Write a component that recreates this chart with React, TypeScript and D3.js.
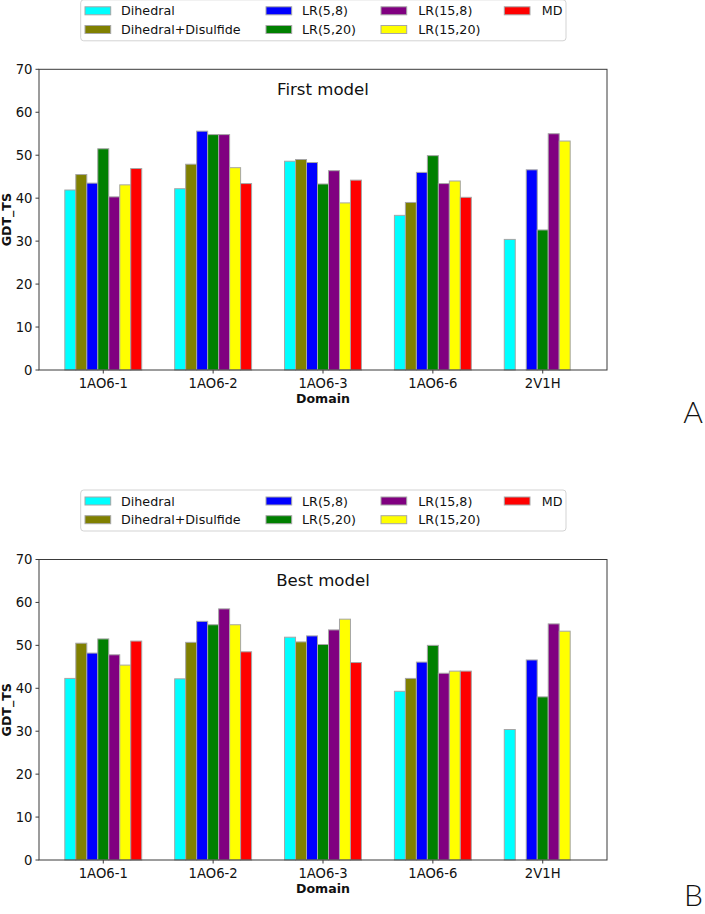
import React from "react";
import * as d3 from "d3";

const categories = ["1AO6-1", "1AO6-2", "1AO6-3", "1AO6-6", "2V1H"];
const seriesNames = ["Dihedral", "Dihedral+Disulfide", "LR(5,8)", "LR(5,20)", "LR(15,8)", "LR(15,20)", "MD"];
const seriesColors = ["#00ffff", "#808000", "#0000ff", "#008000", "#800080", "#ffff00", "#ff0000"];
const yTicks = [0, 10, 20, 30, 40, 50, 60, 70];

// First model (panel A)
const firstDihedral = [41.9, 42.2, 48.6, 36.0, 30.4];
const firstDihedralDisulfide = [45.5, 47.9, 49.0, 39.0, null];
const firstLR5_8 = [43.5, 55.6, 48.3, 46.0, 46.6];
const firstLR5_20 = [51.5, 54.8, 43.3, 49.9, 32.6];
const firstLR15_8 = [40.3, 54.8, 46.4, 43.4, 55.0];
const firstLR15_20 = [43.1, 47.1, 38.9, 44.0, 53.3];
const firstMD = [46.9, 43.4, 44.2, 40.2, null];

// Best model (panel B)
const bestDihedral = [42.3, 42.2, 51.9, 39.3, 30.4];
const bestDihedralDisulfide = [50.5, 50.7, 50.8, 42.3, null];
const bestLR5_8 = [48.2, 55.6, 52.2, 46.1, 46.6];
const bestLR5_20 = [51.5, 54.8, 50.2, 50.0, 38.0];
const bestLR15_8 = [47.8, 58.5, 53.6, 43.5, 55.0];
const bestLR15_20 = [45.4, 54.8, 56.1, 44.0, 53.3];
const bestMD = [51.0, 48.5, 46.0, 44.0, null];

const firstSeries = [firstDihedral, firstDihedralDisulfide, firstLR5_8, firstLR5_20, firstLR15_8, firstLR15_20, firstMD];
const bestSeries = [bestDihedral, bestDihedralDisulfide, bestLR5_8, bestLR5_20, bestLR15_8, bestLR15_20, bestMD];

const FONT = "'DejaVu Sans', sans-serif";
const EDGE = "#a6a6a6";
const SPINE = "#3a3a3a";

type PanelProps = {
  series: (number | null)[][];
  title: string;
  plotTop: number;
  plotBottom: number;
  letter: string;
  letterY: number;
};

function Panel({ series, title, plotTop, plotBottom, letter, letterY }: PanelProps) {
  const left = 39;
  const right = 607;
  const barW = 0.1;
  const x = d3.scaleLinear().domain([-0.585, 4.585]).range([left, right]);
  const y = d3.scaleLinear().domain([0, 70]).range([plotBottom, plotTop]);
  const nS = series.length;

  const legendBottom = plotTop - 28.5;
  const legendTop = legendBottom - 41;
  const row1 = legendBottom - 30;
  const row2 = legendBottom - 11.3;
  const colPatchX = [85, 266, 381, 504.3];
  const colTextX = [121, 302, 418.3, 541.7];

  return (
    <g>
      {series.map((vals, j) =>
        vals.map((v, i) => {
          if (v == null) return null;
          const cx = i + (j - (nS - 1) / 2) * barW;
          const x0 = x(cx - barW / 2);
          const x1 = x(cx + barW / 2);
          return (
            <rect
              key={`b-${j}-${i}`}
              x={x0}
              y={y(v)}
              width={x1 - x0}
              height={y(0) - y(v)}
              fill={seriesColors[j]}
              stroke={EDGE}
              strokeWidth={1}
            />
          );
        })
      )}
      <rect x={left} y={plotTop} width={right - left} height={plotBottom - plotTop} fill="none" stroke={SPINE} strokeWidth={1} />
      {yTicks.map((t) => (
        <g key={`yt-${t}`}>
          <line x1={left - 3.5} x2={left} y1={y(t)} y2={y(t)} stroke={SPINE} strokeWidth={1} />
          <text x={left - 6.5} y={y(t)} dy="0.36em" textAnchor="end" fontFamily={FONT} fontSize={13.2} fill="#111">
            {t}
          </text>
        </g>
      ))}
      {categories.map((c, i) => (
        <g key={`xt-${c}`}>
          <line x1={x(i)} x2={x(i)} y1={plotBottom} y2={plotBottom + 3.5} stroke={SPINE} strokeWidth={1} />
          <text x={x(i)} y={plotBottom + 18} textAnchor="middle" fontFamily={FONT} fontSize={13.2} fill="#111">
            {c}
          </text>
        </g>
      ))}
      <text x={x(2)} y={plotBottom + 32.5} textAnchor="middle" fontFamily={FONT} fontWeight="bold" fontSize={12.6} fill="#111">
        Domain
      </text>
      <text
        transform={`translate(${10.5},${(plotTop + plotBottom) / 2}) rotate(-90)`}
        textAnchor="middle"
        fontFamily={FONT}
        fontWeight="bold"
        fontSize={12.6}
        fill="#111"
      >
        GDT_TS
      </text>
      <text x={x(2)} y={plotTop + 26} textAnchor="middle" fontFamily={FONT} fontSize={16.6} fill="#111">
        {title}
      </text>
      <rect x={80.7} y={legendTop} width={566 - 80.7} height={41} rx={3} fill="#fff" fillOpacity={0.8} stroke="#d3d3d3" strokeWidth={1} />
      {seriesNames.map((name, j) => {
        const col = Math.floor(j / 2);
        const row = j % 2;
        const cy = row === 0 ? row1 : row2;
        return (
          <g key={`lg-${name}`}>
            <rect x={colPatchX[col]} y={cy - 4} width={25.7} height={8} fill={seriesColors[j]} stroke={EDGE} strokeWidth={1} />
            <text x={colTextX[col]} y={cy} dy="0.36em" fontFamily={FONT} fontSize={12.7} fill="#111">
              {name}
            </text>
          </g>
        );
      })}
      <text x={703} y={letterY} textAnchor="end" fontFamily="Lato, 'Open Sans', sans-serif" fontWeight={300} fontSize={30} fill="#111">
        {letter}
      </text>
    </g>
  );
}

export default function App() {
  return (
    <div style={{ position: "absolute", left: 0, top: 0 }}>
      <svg width={705} height={914} viewBox="0 0 705 914" style={{ display: "block", background: "#fff" }}>
        <rect x={0} y={0} width={705} height={914} fill="#fff" />
        <Panel series={firstSeries} title="First model" plotTop={69.3} plotBottom={370} letter="A" letterY={423.3} />
        <Panel series={bestSeries} title="Best model" plotTop={559.5} plotBottom={860} letter="B" letterY={906} />
      </svg>
    </div>
  );
}
